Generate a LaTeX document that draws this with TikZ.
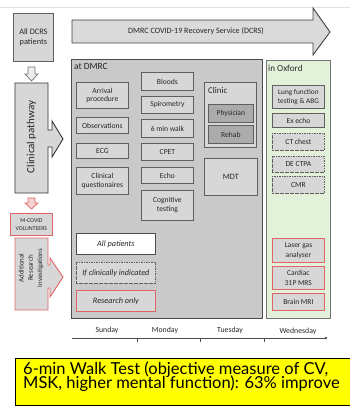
\documentclass[tikz,border=0pt]{standalone}
\usepackage{fontspec}
\setmainfont{Carlito}
\newfontfamily\notefont{Lato}
\usetikzlibrary{arrows.meta}

\definecolor{edgegray}{HTML}{5F5F5F}
\definecolor{panelgray}{HTML}{C9C9C9}
\definecolor{boxgray}{HTML}{D7D7D7}
\definecolor{deepgray}{HTML}{ABABAB}
\definecolor{oxgreen}{HTML}{E3F0DA}
\definecolor{redline}{HTML}{E06666}
\definecolor{pinkfill}{HTML}{F6D2D2}
\definecolor{inkgray}{HTML}{262626}
\definecolor{arrowfill}{HTML}{DADADA}
\definecolor{hollowfill}{HTML}{ECECEC}
\definecolor{noteyellow}{HTML}{FFFF00}

\tikzset{
  tiny/.style={font=\fontsize{7.6}{8.8}\selectfont},
  cell/.style={draw=edgegray, fill=boxgray, line width=0.8pt, inner sep=0.5pt,
    align=center, anchor=north west, text=inkgray, tiny},
  maybe/.style={cell, dash pattern=on 1.6pt off 0.9pt},
  research/.style={cell, draw=redline},
  staff/.style={cell, fill=deepgray},
  keycell/.style={cell, minimum width=79, minimum height=21,
    font=\fontsize{8.2}{9}\selectfont\itshape},
  heading/.style={anchor=north west, inner sep=0, text=inkgray,
    font=\fontsize{9.4}{10}\selectfont},
  day/.style={inner sep=0, text=inkgray, font=\fontsize{7.8}{8}\selectfont},
  blockshape/.style={line width=0.9pt, line join=miter},
  noteline/.style={anchor=base west, inner sep=0, font=\notefont\fontsize{16.5}{14}\selectfont},
}

\begin{document}
\begin{tikzpicture}[x=1pt, y=-1pt]
\useasboundingbox (0,0) rectangle (350,412);
\clip (0,0) rectangle (350,412);

% faint slide edge
\draw[black!12, line width=0.6pt] (0,7) -- (350,7);

% service banner arrow
\draw[blockshape, draw=black!75, fill=arrowfill]
  (72,20) -- (313,20) -- (313,8) -- (330,32) -- (313,55) -- (313,43) -- (72,43) -- cycle;
\node[inner sep=0, text=inkgray, font=\fontsize{8.1}{9}\selectfont] (service) at (196,31.5)
  {DMRC COVID-19 Recovery Service (DCRS)};

% left column: patient flow
\node[cell, fill=boxgray, minimum width=40, minimum height=48,
  font=\fontsize{8.3}{10}\selectfont] (allpat) at (13,13) {All DCRS\\patients};
\draw[blockshape, draw=black!55, fill=hollowfill, line width=0.7pt]
  (28,67) -- (35,67) -- (35,74) -- (38,74) -- (31.5,81) -- (25,74) -- (28,74) -- cycle;

\draw[blockshape, draw=black!80, fill=boxgray]
  (15,83) -- (48,83) -- (48,130) -- (52,130) -- (52,121) -- (63,139) -- (52,157)
  -- (52,147) -- (48,147) -- (48,193) -- (15,193) -- cycle;
\node[rotate=90, inner sep=0, text=inkgray, font=\fontsize{11}{12}\selectfont]
  (pathway) at (31.5,137) {Clinical pathway};

\draw[blockshape, draw=redline, fill=pinkfill, line width=0.7pt]
  (28,198) -- (35,198) -- (35,203) -- (38,203) -- (31.5,209) -- (25,203) -- (28,203) -- cycle;
\node[cell, draw=redline, minimum width=42, minimum height=22,
  font=\fontsize{5.9}{7.6}\selectfont] (mcovid) at (10,213) {M-COVID\\VOLUNTEERS};

\draw[blockshape, draw=redline, fill=boxgray]
  (15,238) -- (48,238) -- (48,265) -- (50,265) -- (50,258) -- (63,277) -- (50,297)
  -- (50,288) -- (48,288) -- (48,310) -- (15,310) -- cycle;
\node[rotate=90, inner sep=0, align=center, text=inkgray,
  font=\fontsize{6.9}{9.3}\selectfont] (extra) at (31,268)
  {Additional\\Research\\Investigations};

% DMRC panel
\draw[draw=black!70, fill=panelgray, line width=0.9pt] (71,59) rectangle (262,318);
\node[heading] (atdmrc) at (74,63) {at DMRC};

\node[cell, minimum width=52, minimum height=26] (arrival) at (76,82) {Arrival\\procedure};
\node[cell, minimum width=52, minimum height=16] (obs) at (76,117) {Observations};
\node[cell, minimum width=52, minimum height=15] (ecg) at (76,143) {ECG};
\node[cell, minimum width=52, minimum height=27] (quest) at (76,167) {Clinical\\questionaires};

\node[cell, minimum width=52, minimum height=18] (bloods) at (141,72) {Bloods};
\node[cell, minimum width=52, minimum height=17] (spiro) at (141,96) {Spirometry};
\node[cell, minimum width=52, minimum height=18] (walk) at (141,119) {6 min walk};
\node[cell, minimum width=52, minimum height=17] (cpet) at (141,143) {CPET};
\node[cell, minimum width=52, minimum height=16] (echo) at (141,167) {Echo};
\node[cell, minimum width=52, minimum height=30] (cog) at (141,190) {Cognitive\\testing};

% clinic group
\draw[draw=edgegray, fill=boxgray, line width=0.8pt] (204,82) rectangle (256,147);
\node[heading, font=\fontsize{8.8}{9}\selectfont] (clinic) at (208,87) {Clinic};
\node[staff, minimum width=45, minimum height=18] (phys) at (208,104) {Physician};
\node[staff, minimum width=45, minimum height=18] (rehab) at (208,125) {Rehab};
\node[cell, minimum width=53, minimum height=37, font=\fontsize{8.2}{9}\selectfont]
  (mdt) at (204,158) {MDT};

% key
\node[keycell, fill=white, draw=black!70] (allkey) at (76,233) {All patients};
\node[keycell, dash pattern=on 1.6pt off 0.9pt, fill=boxgray] (ifkey) at (76,262) {If clinically indicated};
\node[keycell, draw=redline, fill=boxgray] (reskey) at (76,290) {Research only};

% Oxford panel
\draw[draw=black!55, fill=oxgreen, line width=0.9pt] (266,60) rectangle (330,318);
\node[heading, font=\fontsize{9.2}{10}\selectfont] (oxford) at (268,65) {in Oxford};

\node[cell, minimum width=52, minimum height=23, font=\fontsize{7.3}{9.2}\selectfont]
  (lung) at (272,85) {Lung function\\testing \& ABG};
\node[cell, minimum width=52, minimum height=14] (execho) at (272,113) {Ex echo};
\node[maybe, minimum width=52, minimum height=17] (ct) at (272,133) {CT chest};
\node[maybe, minimum width=52, minimum height=16] (dectpa) at (272,156) {DE CTPA};
\node[maybe, minimum width=52, minimum height=17] (cmr) at (272,176) {CMR};
\node[research, minimum width=52, minimum height=24, font=\fontsize{7.5}{9.6}\selectfont]
  (laser) at (272,238) {Laser gas\\analyser};
\node[research, minimum width=52, minimum height=23, font=\fontsize{7.5}{9.6}\selectfont]
  (mrs) at (272,266) {Cardiac\\31P MRS};
\node[research, minimum width=52, minimum height=17] (brain) at (272,293) {Brain MRI};

% timeline
\coordinate (tstart) at (72,338);
\coordinate (tend) at (328,338);
\draw[black!70, line width=1pt, -{Latex[length=3pt, width=3pt]}] (tstart) -- (tend);
\foreach \tx in {137,200,264} \draw[black!70, line width=0.6pt] (\tx,338) -- (\tx,341.5);
\node[day] (sun) at (107,330) {Sunday};
\node[day] (mon) at (165,330) {Monday};
\node[day] (tue) at (230,330) {Tuesday};
\node[day] (wed) at (298,331) {Wednesday};

% highlighted note
\draw[black, fill=noteyellow, line width=0.8pt] (15,358) rectangle (354,405);
\node[noteline] (note1) at (23,374) {6-min Walk Test (objective measure of CV,};
\node[noteline] (note2) at (23,388) {MSK, higher mental function): 63\% improve};
\end{tikzpicture}
\end{document}
